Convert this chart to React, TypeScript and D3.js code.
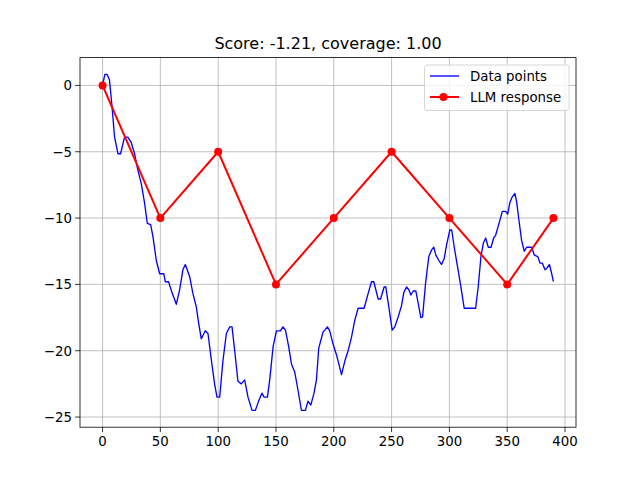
import * as d3 from 'd3';

const dataX = [0, 2, 4, 6, 8, 10.4, 13.3, 15.6, 19, 21.9, 24.8, 27.7, 30.6, 33.5, 36.4, 38.7, 41.6, 43.6, 46.5, 49.4, 53, 54.3, 57.1, 60, 63.8, 66.7, 69.5, 71.6, 75.3, 78.2, 81.1, 83.1, 85.4, 88.9, 91.2, 94.1, 96.9, 99, 101.3, 104.2, 107.1, 110, 112, 114.3, 117.1, 120, 122.9, 125.8, 129.3, 132.2, 135, 137.9, 139.7, 142.6, 144.6, 147.5, 150.4, 153.8, 156.1, 158.2, 161, 163.4, 166.2, 169.1, 172, 175.5, 177.7, 180.1, 182.9, 185, 187, 190.7, 194.5, 196.5, 199.4, 202.3, 206.7, 209.5, 212.4, 215.3, 218.2, 221, 226.2, 229.7, 232.6, 234.6, 238.4, 240.5, 243.5, 245, 247.6, 250.5, 252.8, 255.7, 258.6, 260.6, 262.9, 264.9, 266.7, 268.7, 271, 273.6, 275.3, 276.8, 279.4, 282.2, 284.6, 286.5, 288.3, 290.9, 293.2, 295.5, 297.6, 300.4, 302, 304.2, 307.1, 310, 312.8, 322.7, 324.9, 327.3, 329.3, 331.4, 333.6, 336, 338.3, 340, 342.9, 345.8, 348.7, 350.4, 352.4, 354.4, 356.7, 358.2, 360.2, 362.5, 364.8, 366.8, 371.2, 373.5, 376.4, 378.4, 380.4, 382.7, 384.2, 386.5, 388.5, 390];
const dataY = [0, 0.83, 0.83, 0.4, -1.4, -3.9, -5.15, -5.15, -3.9, -3.9, -4.3, -5.15, -6.4, -7.4, -8.9, -10.4, -10.5, -11.4, -13.2, -14.2, -14.2, -14.8, -14.8, -15.6, -16.5, -15.4, -13.9, -13.5, -14.4, -15.7, -16.7, -17.9, -19.1, -18.5, -18.7, -20.7, -22.5, -23.5, -23.5, -20.7, -18.7, -18.2, -18.2, -20, -22.3, -22.5, -22.2, -23.5, -24.5, -24.5, -23.8, -23.2, -23.5, -23.5, -22.2, -19.7, -18.5, -18.5, -18.2, -18.45, -19.7, -21, -21.6, -23, -24.5, -24.5, -23.8, -24.1, -23.2, -22.2, -19.8, -18.6, -18.2, -18.5, -19.5, -20.3, -21.8, -20.8, -20, -19, -17.7, -16.8, -16.8, -15.7, -14.8, -14.8, -16.1, -16.1, -15.2, -15.2, -16.7, -18.45, -18.2, -17.45, -16.6, -15.6, -15.2, -15.4, -15.8, -15.5, -15.5, -16.7, -17.5, -17.45, -14.9, -12.9, -12.4, -12.2, -12.8, -13.2, -13.5, -13.05, -12, -10.9, -10.9, -12.2, -13.7, -15.2, -16.8, -16.8, -15.2, -12.9, -11.9, -11.5, -12.2, -12.2, -11.5, -11.3, -10.4, -9.5, -9.5, -9.7, -8.8, -8.4, -8.15, -8.8, -10.2, -11.7, -12.5, -12.2, -12.2, -12.8, -12.9, -13.4, -13.4, -13.9, -13.8, -13.5, -14.2, -14.8];

// LLM response
const llmX = [0, 50, 100, 150, 200, 250, 300, 350, 390];
const llmY = [0, -10, -5, -15, -10, -5, -10, -15, -10];

const xTicks = [0, 50, 100, 150, 200, 250, 300, 350, 400];
const yTicks = [0, -5, -10, -15, -20, -25];

const title = 'Score: -1.21, coverage: 1.00';

export default function App() {
  const W = 640, H = 480;
  const left = 80, right = 576, top = 57.6, bottom = 427.2;

  const allX = [...dataX, ...llmX];
  const allY = [...dataY, ...llmY];
  const [x0, x1] = d3.extent(allX) as [number, number];
  const [y0, y1] = d3.extent(allY) as [number, number];
  const px = (x1 - x0) * 0.05, py = (y1 - y0) * 0.05;

  const x = d3.scaleLinear().domain([x0 - px, x1 + px]).range([left, right]);
  const y = d3.scaleLinear().domain([y0 - py, y1 + py]).range([bottom, top]);

  const line = d3.line<number>().x((_, i) => x(dataX[i])).y((d) => y(d));
  const llmLine = d3.line<number>().x((_, i) => x(llmX[i])).y((d) => y(d));

  const font = 'DejaVu Sans';
  const lx = 424.5, ly = 65, lw = 144.5, lh = 45.5;

  return (
    <svg width={W} height={H} style={{ position: 'absolute', left: 0, top: 0 }} fontFamily={font}>
      <rect width={W} height={H} fill="#fff" />
      <text x={(left + right) / 2} y={49} textAnchor="middle" fontSize={16}>{title}</text>

      {/* grid */}
      {xTicks.map((t) => (
        <line key={'gx' + t} x1={x(t)} x2={x(t)} y1={top} y2={bottom} stroke="#b0b0b0" strokeWidth={0.8} />
      ))}
      {yTicks.map((t) => (
        <line key={'gy' + t} x1={left} x2={right} y1={y(t)} y2={y(t)} stroke="#b0b0b0" strokeWidth={0.8} />
      ))}

      <path d={line(dataY) ?? ''} fill="none" stroke="#0000ff" strokeWidth={1.33} strokeLinejoin="round" />
      <path d={llmLine(llmY) ?? ''} fill="none" stroke="#ff0000" strokeWidth={2} strokeLinejoin="round" />
      {llmY.map((v, i) => (
        <circle key={'m' + i} cx={x(llmX[i])} cy={y(v)} r={4} fill="#ff0000" />
      ))}

      {/* spines */}
      <rect x={left} y={top} width={right - left} height={bottom - top} fill="none" stroke="#000" strokeWidth={0.8} />

      {/* ticks */}
      {xTicks.map((t) => (
        <g key={'tx' + t}>
          <line x1={x(t)} x2={x(t)} y1={bottom} y2={bottom + 4.9} stroke="#000" strokeWidth={0.8} />
          <text x={x(t)} y={bottom + 18.5} textAnchor="middle" fontSize={13.33}>{t}</text>
        </g>
      ))}
      {yTicks.map((t) => (
        <g key={'ty' + t}>
          <line x1={left - 4.9} x2={left} y1={y(t)} y2={y(t)} stroke="#000" strokeWidth={0.8} />
          <text x={left - 8} y={y(t) + 4.8} textAnchor="end" fontSize={13.33}>{t < 0 ? '\u2212' + Math.abs(t) : t}</text>
        </g>
      ))}

      {/* legend */}
      <rect x={lx} y={ly} width={lw} height={lh} rx={2.5} fill="#fff" fillOpacity={0.8} stroke="#cccccc" strokeWidth={0.8} />
      <line x1={lx + 5.5} x2={lx + 34.5} y1={ly + 11} y2={ly + 11} stroke="#0000ff" strokeWidth={1.33} />
      <text x={lx + 45.5} y={ly + 15.5} fontSize={13.33}>Data points</text>
      <line x1={lx + 5.5} x2={lx + 34.5} y1={ly + 32} y2={ly + 32} stroke="#ff0000" strokeWidth={2} />
      <circle cx={lx + 19} cy={ly + 32} r={4} fill="#ff0000" />
      <text x={lx + 45.5} y={ly + 36.5} fontSize={13.33}>LLM response</text>
    </svg>
  );
}
